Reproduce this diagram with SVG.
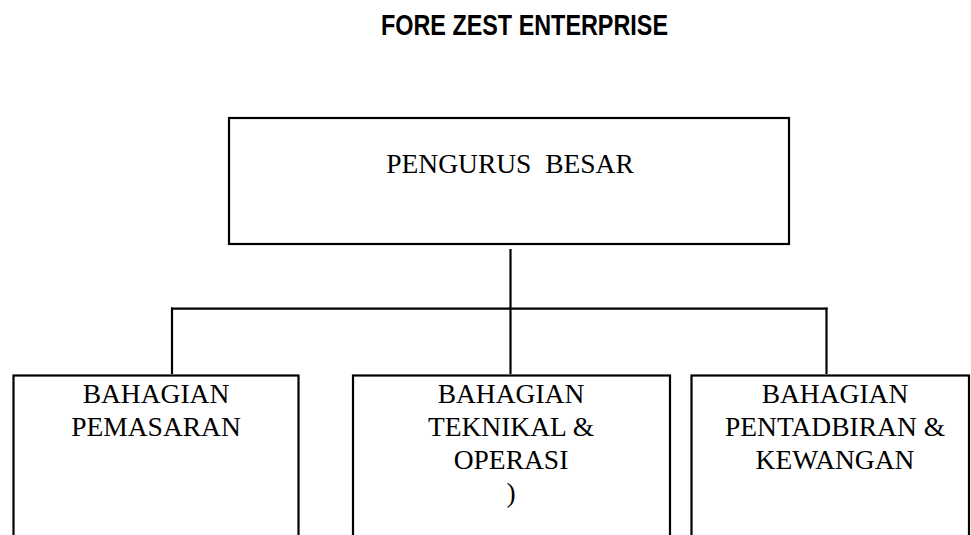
<svg xmlns="http://www.w3.org/2000/svg" width="971" height="535" viewBox="0 0 971 535">
<style>
.box{fill:#fff;stroke:#000;stroke-width:2.2}
.lbl{font-family:"Liberation Serif","Times New Roman",serif;font-size:27.5px;fill:#000;text-anchor:middle}
.ttl{font-family:"Liberation Sans",Arial,sans-serif;font-weight:bold;font-size:29px;fill:#000;text-anchor:middle}
.con{stroke:#000;stroke-width:2.2;fill:none}
</style>
<rect x="0" y="0" width="971" height="535" fill="#fff"/>
<text class="ttl" x="524.5" y="35" textLength="287" lengthAdjust="spacingAndGlyphs">FORE ZEST ENTERPRISE</text>
<g id="connectors">
<line class="con" x1="510.5" y1="249" x2="510.5" y2="374"/>
<line class="con" x1="171" y1="308.7" x2="827.5" y2="308.7"/>
<line class="con" x1="172" y1="307.6" x2="172" y2="374"/>
<line class="con" x1="826.5" y1="307.6" x2="826.5" y2="374"/>
</g>
<g id="pengurus-besar">
<rect class="box" x="229" y="118" width="560" height="126"/>
<text class="lbl" x="510" y="173" xml:space="preserve">PENGURUS  BESAR</text>
</g>
<g id="bahagian-pemasaran">
<rect class="box" x="13.5" y="375.5" width="285" height="180"/>
<text class="lbl" x="156" y="403">BAHAGIAN</text>
<text class="lbl" x="156" y="436">PEMASARAN</text>
</g>
<g id="bahagian-teknikal">
<rect class="box" x="353" y="375.5" width="317" height="180"/>
<text class="lbl" x="511" y="403">BAHAGIAN</text>
<text class="lbl" x="511" y="436">TEKNIKAL &amp;</text>
<text class="lbl" x="511" y="469">OPERASI</text>
<text class="lbl" x="511" y="502">)</text>
</g>
<g id="bahagian-pentadbiran">
<rect class="box" x="691.5" y="375.5" width="277.5" height="180"/>
<text class="lbl" x="835" y="403">BAHAGIAN</text>
<text class="lbl" x="835" y="436">PENTADBIRAN &amp;</text>
<text class="lbl" x="835" y="469">KEWANGAN</text>
</g>
</svg>
